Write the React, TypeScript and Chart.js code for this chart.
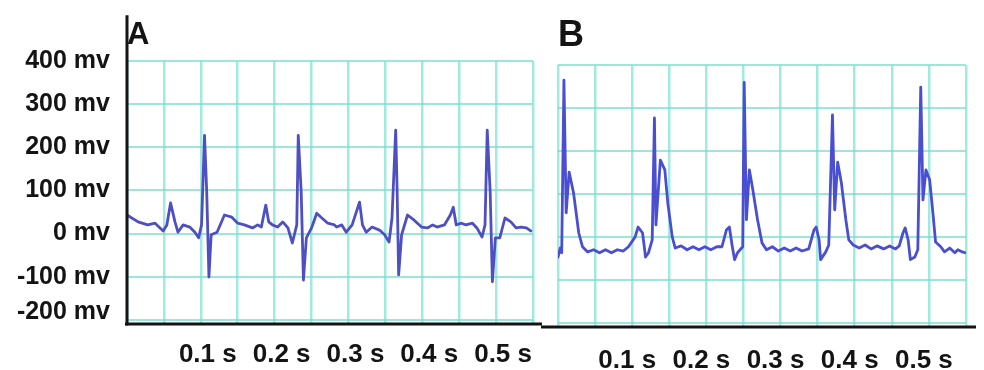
import React, { useEffect, useRef } from "react";
import { Chart, registerables } from "chart.js";

Chart.register(...registerables);

// ---------- data ----------
const panelTitles = ["A", "B"];
const yTickValues = [-200, -100, 0, 100, 200, 300, 400];
const yTickLabels = ["-200 mv", "-100 mv", "0 mv", "100 mv", "200 mv", "300 mv", "400 mv"];
const xTickValues = [0.1, 0.2, 0.3, 0.4, 0.5];
const xTickLabels = ["0.1 s", "0.2 s", "0.3 s", "0.4 s", "0.5 s"];
const xMin = 0;
const xMax = 0.55;
const xGridStep = 0.05;
const yMin = -210;
const yMax = 400;

// Panel A trace (seconds, mV)
const timeA = [
  0.0, 0.015, 0.028, 0.038, 0.049, 0.054, 0.059, 0.065, 0.069, 0.076,
  0.085, 0.092, 0.097, 0.101, 0.105, 0.108, 0.111, 0.114, 0.122, 0.132,
  0.142, 0.15, 0.159, 0.17, 0.177, 0.182, 0.188, 0.192, 0.197, 0.204,
  0.211, 0.218, 0.224, 0.23, 0.232, 0.236, 0.239, 0.243, 0.25, 0.257,
  0.264, 0.272, 0.281, 0.284, 0.291, 0.297, 0.305, 0.315, 0.319, 0.324,
  0.332, 0.342, 0.349, 0.355, 0.359, 0.364, 0.366, 0.368, 0.372, 0.38,
  0.389, 0.399, 0.407, 0.414, 0.42, 0.43, 0.438, 0.442, 0.446, 0.453,
  0.459, 0.468, 0.474, 0.481, 0.485, 0.488, 0.492, 0.495, 0.499, 0.505,
  0.512, 0.52, 0.527, 0.534, 0.541, 0.547,
];
const mvA = [
  43, 27, 20, 24, 6, 20, 71, 27, 3, 20,
  15, 3, -10, 20, 228, 96, -101, -3, 3, 43,
  38, 24, 20, 13, 20, 15, 66, 27, 20, 15,
  27, 13, -22, 20, 228, 96, -108, -10, 13, 47,
  36, 24, 20, 15, 20, 3, 20, 73, 20, 3,
  15, 8, -3, -20, 36, 240, 96, -96, -3, 43,
  31, 15, 13, 20, 15, 20, 43, 61, 20, 24,
  20, 24, 13, -8, 20, 240, 96, -112, -10, -10,
  36, 27, 13, 15, 13, 6,
];

// Panel B trace (seconds, mV)
const timeB = [
  0.0, 0.003, 0.005, 0.008, 0.011, 0.015, 0.021, 0.028, 0.033, 0.04,
  0.048, 0.056, 0.064, 0.072, 0.08, 0.088, 0.095, 0.104, 0.108, 0.114,
  0.118, 0.122, 0.127, 0.13, 0.132, 0.138, 0.144, 0.148, 0.154, 0.158,
  0.166, 0.174, 0.182, 0.19, 0.198, 0.206, 0.214, 0.221, 0.227, 0.231,
  0.235, 0.238, 0.242, 0.249, 0.251, 0.254, 0.258, 0.262, 0.269, 0.275,
  0.281, 0.289, 0.297, 0.305, 0.313, 0.321, 0.329, 0.338, 0.345, 0.348,
  0.352, 0.354, 0.361, 0.365, 0.37, 0.373, 0.377, 0.382, 0.388, 0.392,
  0.398, 0.406, 0.414, 0.422, 0.43, 0.439, 0.447, 0.455, 0.46, 0.465,
  0.468, 0.472, 0.475, 0.481, 0.485, 0.489, 0.492, 0.496, 0.501, 0.505,
  0.509, 0.516, 0.521, 0.528, 0.535, 0.539, 0.545, 0.549,
];
const mvB = [
  -47, -26, -37, 365, 56, 151, 102, 9, -23, -35,
  -30, -37, -30, -37, -30, -33, -23, 0, 23, 9,
  -47, -37, -7, 277, 28, 179, 156, 79, 0, -26,
  -21, -30, -23, -30, -23, -30, -23, -23, 16, 23,
  -23, -53, -37, -23, 360, 40, 156, 116, 40, -14,
  -30, -23, -33, -26, -33, -26, -33, -28, 16, 23,
  -7, -53, -35, -19, 284, 63, 174, 126, 40, -7,
  -19, -26, -19, -28, -21, -28, -21, -28, -21, 9,
  21, -7, -53, -47, -30, 349, 86, 156, 133, 63,
  -12, -23, -35, -26, -37, -30, -35, -37,
];

// ---------- styling ----------
const FONT = "'Liberation Sans', Arial, sans-serif";
const GRID_X = "rgba(125, 226, 212, 0.72)";
const GRID_Y = "rgba(115, 220, 200, 0.7)";
const INK = "#141414";

const axisLinesPlugin = {
  id: "axisLines",
  afterDatasetsDraw(chart: any, _args: any, opts: any) {
    const { ctx, chartArea } = chart;
    ctx.save();
    ctx.strokeStyle = INK;
    ctx.lineWidth = 3;
    ctx.lineCap = "butt";
    ctx.beginPath();
    ctx.moveTo(chartArea.left - opts.leftExt, chartArea.bottom);
    ctx.lineTo(chartArea.right + opts.rightExt, chartArea.bottom);
    ctx.stroke();
    if (opts.vertical) {
      ctx.beginPath();
      ctx.moveTo(chartArea.left, chartArea.top - opts.topExt);
      ctx.lineTo(chartArea.left, chartArea.bottom + 1.5);
      ctx.stroke();
    }
    ctx.restore();
  },
};

function toPoints(t: number[], v: number[]) {
  return t.map((x, i) => ({ x, y: v[i] }));
}

function xLabel(value: number) {
  const i = xTickValues.findIndex((v) => Math.abs(v - value) < 1e-6);
  return i >= 0 ? xTickLabels[i] : "";
}

// the lowest label sits a little above its grid line in the original figure:
// give it an empty second line so its first line is lifted
function yLabel(value: number) {
  const i = yTickValues.findIndex((v) => Math.abs(v - value) < 1e-6);
  if (i < 0) return "";
  return i === 0 ? [yTickLabels[i], ""] : yTickLabels[i];
}

function makeConfig(panel: "A" | "B"): any {
  const isA = panel === "A";
  const data = isA ? toPoints(timeA, mvA) : toPoints(timeB, mvB);
  return {
    type: "line",
    data: {
      datasets: [
        {
          data,
          borderColor: isA ? "#4e50c2" : "#4a4ed0",
          borderWidth: 2.8,
          borderJoinStyle: "round",
          borderCapStyle: "round",
          pointRadius: 0,
          tension: 0,
          fill: false,
        },
      ],
    },
    plugins: [axisLinesPlugin],
    options: {
      responsive: false,
      animation: false,
      devicePixelRatio: 1,
      layout: {
        padding: { top: 0, left: 0, right: isA ? 17 : 16, bottom: 0 },
      },
      plugins: {
        legend: { display: false },
        tooltip: { enabled: false },
        title: {
          display: true,
          text: isA ? panelTitles[0] : panelTitles[1],
          align: "start",
          fullSize: false,
          color: INK,
          font: { family: FONT, size: isA ? 31 : 36, weight: "bold", lineHeight: 1.2 },
          padding: isA ? { top: 17, bottom: 7 } : { top: 14, bottom: 8 },
        },
        axisLines: isA
          ? { vertical: true, leftExt: 2, rightExt: 9, topExt: 46 }
          : { vertical: false, leftExt: 17, rightExt: 10, topExt: 0 },
      },
      scales: {
        x: {
          type: "linear",
          min: xMin,
          max: xMax,
          afterFit: (scale: any) => {
            scale.height = isA ? 46 : 43;
          },
          grid: { color: GRID_X, lineWidth: 2.5, drawTicks: false },
          border: { display: false },
          ticks: {
            stepSize: xGridStep,
            autoSkip: false,
            maxRotation: 0,
            minRotation: 0,
            padding: isA ? 15 : 18,
            labelOffset: isA ? 7 : -5,
            color: INK,
            font: { family: FONT, size: 26, weight: "bold" },
            callback: (value: number) => xLabel(value),
          },
        },
        y: {
          type: "linear",
          min: yMin,
          max: yMax,
          afterBuildTicks: (scale: any) => {
            scale.ticks = yTickValues.map((v) => ({ value: v }));
          },
          afterFit: (scale: any) => {
            scale.width = isA ? 127 : 17;
          },
          grid: { color: GRID_Y, lineWidth: 2, drawTicks: false },
          border: { display: false },
          ticks: {
            display: isA,
            padding: 17,
            color: INK,
            font: (ctx: any) =>
              ctx.tick && Math.abs(ctx.tick.value - yTickValues[0]) < 1e-6
                ? { family: FONT, size: 25, weight: "bold", lineHeight: 0.64 }
                : { family: FONT, size: 25, weight: "bold", lineHeight: 1.2 },
            callback: (value: number) => yLabel(value),
          },
        },
      },
    },
  };
}

function Panel({ panel, left, width }: { panel: "A" | "B"; left: number; width: number }) {
  const ref = useRef<HTMLCanvasElement | null>(null);
  useEffect(() => {
    if (!ref.current) return;
    const chart = new Chart(ref.current, makeConfig(panel));
    return () => chart.destroy();
  }, [panel]);
  return (
    <canvas
      ref={ref}
      width={width}
      height={370}
      style={{ position: "absolute", left, top: 0, width, height: 370, display: "block" }}
    />
  );
}

export default function App() {
  return (
    <div
      style={{
        position: "fixed",
        left: 0,
        top: 0,
        width: 984,
        height: 370,
        background: "#ffffff",
        overflow: "hidden",
      }}
    >
      <Panel panel="A" left={0} width={550} />
      <Panel panel="B" left={540} width={444} />
    </div>
  );
}
